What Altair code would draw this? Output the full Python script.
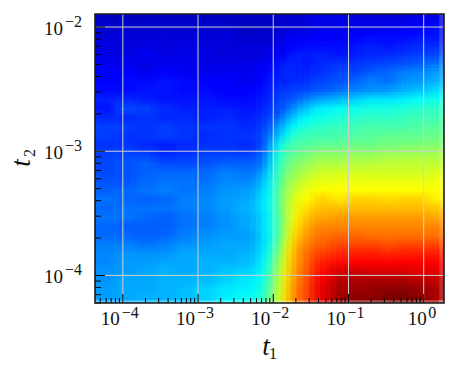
import altair as alt
import numpy as np
import pandas as pd

W, H = 349, 289
# column edges as log10(t1)
t1_exp = [-4.37,-4.1,-3.83,-3.56,-3.3,-3.03,-2.76,-2.5,-2.24,-2.16,-2.08,-2.0,-1.92,-1.84,-1.76,-1.68,-1.6,-1.52,-1.44,
          -1.23,-1.01,-0.8,-0.59,-0.37,-0.16,0.05,0.27]
t2_top, t2_bottom = -1.895, -4.222
rows = [
[6,6,6,6,6,6,6,6,6,6,6,6,6,7,7,7,8,8,9,9,8,8,8,8,9,9],
[7,7,7,7,7,7,7,6,6,6,7,7,7,8,8,8,9,9,10,10,10,10,10,11,11,12],
[8,8,8,8,8,8,8,7,7,7,7,8,9,10,10,10,10,10,11,11,11,12,12,12,13,13],
[9,8,9,8,9,8,8,8,8,8,8,9,10,11,11,12,12,12,12,12,13,14,13,14,15,15],
[9,9,10,9,9,9,8,8,8,9,9,10,11,12,14,14,13,14,14,13,14,15,15,16,17,18],
[10,10,9,10,10,9,9,9,10,10,10,12,14,14,15,13,14,13,15,16,16,17,18,19,20,22],
[11,11,10,11,10,10,10,10,10,11,12,14,14,16,14,14,15,15,16,18,18,20,21,23,24,26],
[11,12,12,13,12,11,11,10,11,12,13,15,14,15,16,15,16,17,18,19,21,23,22,25,26,28],
[12,12,13,13,12,12,11,11,12,13,14,16,16,17,17,18,18,19,20,22,24,25,26,28,30,32],
[14,15,14,13,13,13,12,12,13,14,15,17,18,19,20,22,24,25,27,29,31,33,33,34,36,37],
[13,18,17,15,14,14,14,13,14,15,16,18,19,22,25,28,30,32,34,36,37,38,38,39,40,41],
[15,15,16,15,15,14,15,14,15,16,18,20,23,27,31,33,35,36,37,39,40,41,41,42,43,43],
[17,17,16,17,16,16,16,15,16,18,20,24,29,32,35,38,39,40,41,42,43,44,44,44,45,46],
[17,16,16,17,16,15,16,16,17,19,23,28,32,37,40,42,43,43,43,44,45,46,47,47,47,48],
[16,16,15,14,15,16,16,15,17,20,26,33,38,42,44,45,45,46,47,47,48,48,49,50,50,51],
[17,18,17,15,16,17,17,17,19,22,29,36,41,45,47,48,49,50,52,52,53,53,54,54,55,55],
[18,19,20,18,18,19,20,20,21,24,31,38,44,48,50,52,53,54,56,56,57,57,58,58,58,58],
[18,19,20,21,21,21,23,22,24,27,33,40,46,50,53,55,56,58,60,60,60,60,60,60,60,61],
[19,19,21,22,22,22,24,24,27,30,34,41,48,53,56,58,60,61,62,63,63,63,63,63,63,63],
[20,21,22,23,22,23,25,26,29,32,35,42,50,55,59,61,63,64,65,65,65,65,65,65,65,65],
[22,21,20,21,23,24,26,27,31,33,36,42,51,57,61,64,65,66,69,67,69,69,68,69,69,66],
[21,22,22,22,23,24,26,28,31,33,36,43,51,58,62,66,68,69,71,71,71,71,71,71,71,70],
[22,22,21,20,22,23,25,27,30,32,35,42,50,58,64,68,70,72,73,74,74,74,74,74,74,73],
[21,20,20,20,22,23,25,27,30,33,36,42,50,59,66,70,72,74,76,76,76,76,76,76,76,76],
[21,21,20,21,23,25,26,26,30,32,35,42,51,61,68,72,74,76,78,79,79,78,78,78,78,78],
[23,23,22,23,25,26,27,27,30,33,37,43,54,64,70,74,76,78,80,82,82,82,81,82,82,82],
[24,25,25,25,27,27,27,28,31,34,39,46,57,66,72,76,78,80,83,85,86,86,85,86,86,86],
[24,26,26,27,27,28,28,29,32,35,41,49,59,67,73,76,79,82,86,88,89,89,89,89,89,89],
[25,26,27,28,27,28,30,31,34,37,43,51,61,68,74,77,80,83,88,92,93,92,92,92,91,91],
[25,27,27,28,28,29,31,33,35,38,45,53,62,69,75,78,81,84,90,95,96,96,96,96,95,94],
[26,27,27,28,29,31,33,34,36,40,47,54,63,70,76,79,82,85,91,96,97,98,99,99,98,96],
[26,27,28,28,29,31,34,36,38,42,48,55,64,71,76,79,82,85,91,97,99,99,100,100,99,96],
]
x_major = [1e-4, 1e-3, 1e-2, 1e-1]
x_major_last = [1e0]
x_sup = ["−4", "−3", "−2", "−1"]
x_sup_last = ["0"]
y_major = [1e-2, 1e-3, 1e-4]
y_sup = ["−2", "−3", "−4"]
x_minor = [m * 10.0**e for e in range(-5, 1) for m in range(2, 10)]
x_minor = [v for v in x_minor if 10**-4.37 < v < 10**0.27]
y_minor = [m * 10.0**e for e in range(-5, -2) for m in range(2, 10)]
y_minor = [v for v in y_minor if 10**-4.222 < v < 10**-1.895]

x_dom = [10**t1_exp[0], 10**t1_exp[-1]]
y_dom = [10**t2_bottom, 10**t2_top]
r_edges = np.linspace(t2_top, t2_bottom, len(rows) + 1)
recs = []
for i, row in enumerate(rows):
    for j, v in enumerate(row):
        recs.append(dict(x=10**t1_exp[j], x2=10**t1_exp[j+1], y=10**r_edges[i], y2=10**r_edges[i+1], v=v))
df = pd.DataFrame(recs)

FONT = "Liberation Serif"
INK = "#111111"
xs = alt.Scale(type="log", domain=x_dom, nice=False)
ys = alt.Scale(type="log", domain=y_dom, nice=False)
cs = alt.Scale(domain=[0, 11, 35, 50, 65, 89, 100],
               range=["#000080", "#0000ff", "#00ffff", "#7cff79", "#ffff00", "#ff0000", "#800000"],
               interpolate="rgb")

def heat(dx=0, dy=0, op=1.0):
    props = dict(clip=True, opacity=op, xOffset=dx, x2Offset=dx, yOffset=dy, y2Offset=dy)
    if op == 1.0:
        props["strokeWidth"] = 0.6
    enc = dict(
        x=alt.X("x:Q", scale=xs, axis=None), x2="x2:Q",
        y=alt.Y("y:Q", scale=ys, axis=None), y2="y2:Q",
        fill=alt.Fill("v:Q", scale=cs, legend=None),
    )
    if op == 1.0:
        enc["stroke"] = alt.Stroke("v:Q", scale=cs, legend=None)
    return alt.Chart(df).mark_rect(**props).encode(**enc)

# the same cells, drawn again a few pixels apart, soften the block edges
shifts = [(dx, dy) for dy in (-3, 0, 3) for dx in (-5, 0, 5)]
heat_layers = [heat(dx, dy, 1.0 / (k + 1)) for k, (dx, dy) in enumerate(shifts)]

def xrule(vals, y1, y2, color, width=1):
    return alt.Chart(pd.DataFrame({"t": vals})).mark_rule(color=color, strokeWidth=width).encode(
        x=alt.X("t:Q", scale=xs, axis=None), y=alt.value(y1), y2=alt.value(y2))

def yrule(vals, x1, x2, color, width=1):
    return alt.Chart(pd.DataFrame({"t": vals})).mark_rule(color=color, strokeWidth=width).encode(
        y=alt.Y("t:Q", scale=ys, axis=None), x=alt.value(x1), x2=alt.value(x2))

def xlabels(vals, sups, dx_base, dx_sup):
    d = pd.DataFrame({"t": vals, "base": ["10"] * len(vals), "sup": sups})
    a = alt.Chart(d).mark_text(font=FONT, fontSize=19, color=INK, align="right", baseline="alphabetic", dx=dx_base).encode(
        x=alt.X("t:Q", scale=xs, axis=None), y=alt.value(H + 22), text="base:N")
    b = alt.Chart(d).mark_text(font=FONT, fontSize=16, color=INK, align="left", baseline="alphabetic", dx=dx_sup).encode(
        x=alt.X("t:Q", scale=xs, axis=None), y=alt.value(H + 15), text="sup:N")
    return [a, b]

def ylabels(vals, sups):
    d = pd.DataFrame({"t": vals, "base": ["10"] * len(vals), "sup": sups})
    a = alt.Chart(d).mark_text(font=FONT, fontSize=19, color=INK, align="right", baseline="alphabetic", dy=7.5).encode(
        y=alt.Y("t:Q", scale=ys, axis=None), x=alt.value(-32), text="base:N")
    b = alt.Chart(d).mark_text(font=FONT, fontSize=16, color=INK, align="left", baseline="alphabetic", dy=0).encode(
        y=alt.Y("t:Q", scale=ys, axis=None), x=alt.value(-30), text="sup:N")
    return [a, b]

def note(text, x, y, size, angle=0, style="normal"):
    return alt.Chart(pd.DataFrame({"s": [text]})).mark_text(
        font=FONT, fontSize=size, color=INK, fontStyle=style, angle=angle, align="center", baseline="alphabetic"
    ).encode(x=alt.value(x), y=alt.value(y), text="s:N")

frame = alt.Chart(pd.DataFrame({"a": [0]})).mark_rect(filled=False, stroke="#1a1a1a", strokeWidth=1.6).encode(
    x=alt.value(0), x2=alt.value(W), y=alt.value(0), y2=alt.value(H))

chart = alt.layer(
    *heat_layers,
    xrule(x_major + x_major_last, 0, H, "#d0d0d0"),
    yrule(y_major, 0, W, "#d0d0d0"),
    xrule(x_major + x_major_last, H, H - 9, "#000"),
    xrule(x_minor, H, H - 5, "#000"),
    yrule(y_major, 0, 10, "#000"),
    yrule(y_minor, 0, 6, "#000"),
    frame,
    *xlabels(x_major, x_sup, -3, -1),
    *xlabels(x_major_last, x_sup_last, 3, 4.5),
    *ylabels(y_major, y_sup),
    note("t", 171, 341, 27, style="italic"),
    note("1", 178, 345, 16),
    note("t", -65, 149, 27, angle=270, style="italic"),
    note("2", -60, 139, 16, angle=270),
).properties(
    width=W, height=H,
    autosize=alt.AutoSizeParams(type="none"),
    padding={"left": 87, "top": 6, "right": 6, "bottom": 65},
).configure_view(stroke=None)

chart.save("out.html", embed_options={"renderer": "svg", "actions": False})
